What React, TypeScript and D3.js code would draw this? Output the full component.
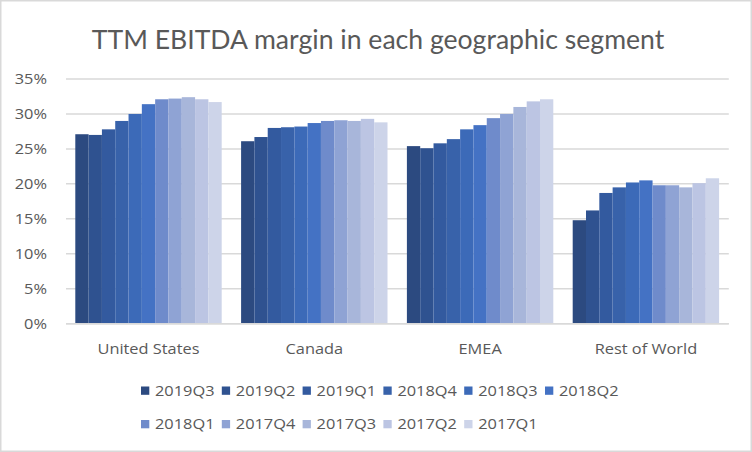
import React from "react";
import * as d3 from "d3";

const title = "TTM EBITDA margin in each geographic segment";
const categories = ["United States", "Canada", "EMEA", "Rest of World"];
const seriesNames = [
  "2019Q3", "2019Q2", "2019Q1", "2018Q4", "2018Q3", "2018Q2",
  "2018Q1", "2017Q4", "2017Q3", "2017Q2", "2017Q1",
];
const seriesColors = [
  "#2C4A80", "#2F5290", "#335A9F", "#3862AA", "#3C6AB8", "#4472C4",
  "#6F8BCB", "#8FA3D4", "#A8B6DA", "#BCC5E3", "#CDD4E9",
];
// values per category, in series order
const usValues = [0.271, 0.270, 0.278, 0.290, 0.300, 0.314, 0.321, 0.322, 0.324, 0.321, 0.317];
const canadaValues = [0.261, 0.267, 0.280, 0.281, 0.282, 0.287, 0.290, 0.291, 0.290, 0.293, 0.288];
const emeaValues = [0.254, 0.251, 0.258, 0.264, 0.278, 0.284, 0.294, 0.300, 0.310, 0.318, 0.321];
const rowValues = [0.148, 0.162, 0.187, 0.195, 0.202, 0.205, 0.198, 0.198, 0.195, 0.201, 0.208];
const yTicks = [0, 0.05, 0.1, 0.15, 0.2, 0.25, 0.3, 0.35];

const W = 752;
const H = 452;
const FONT = "Lato, 'Open Sans', sans-serif";
const SMALL_FONT = "'Open Sans', Lato, sans-serif";
const TEXT = "#595959";
const GRID = "#D9D9D9";
const STRETCH = 1.17;

function Label(props: { x: number; y: number; anchor?: string; children: React.ReactNode }) {
  return (
    <g transform={`translate(${props.x},${props.y}) scale(${STRETCH},1)`}>
      <text dy="0.36em" textAnchor={props.anchor || "start"} fontSize={14} fill={TEXT}>
        {props.children}
      </text>
    </g>
  );
}

export default function App() {
  const valuesByCat = [usValues, canadaValues, emeaValues, rowValues];
  const plotLeft = 65.6;
  const plotRight = 728.8;
  const gap = 0.117;
  const x0 = d3
    .scaleBand<string>()
    .domain(categories)
    .range([plotLeft, plotRight])
    .paddingInner(gap)
    .paddingOuter(gap / 2);
  const x1 = d3.scaleBand<string>().domain(seriesNames).range([0, x0.bandwidth()]);
  const y = d3.scaleLinear().domain([0, 0.35]).range([323.7, 79]);
  const fmt = d3.format(".0%");

  const legendRows = [seriesNames.slice(0, 6), seriesNames.slice(6)];
  const legendStep = 80.8;
  const legendX0 = 141;
  const legendRowY = [390.5, 424];

  return (
    <svg
      width={W}
      height={H}
      style={{ position: "absolute", left: 0, top: 0, background: "#fff" }}
      fontFamily={SMALL_FONT}
    >
      <rect x={0.75} y={0.75} width={W - 1.5} height={H - 1.5} fill="#fff" stroke={GRID} strokeWidth={1.5} />
      <text x={378} y={49} textAnchor="middle" fontSize={26.6} fill={TEXT} fontFamily={FONT}>
        {title}
      </text>
      {yTicks.map((t) => (
        <g key={t}>
          <line x1={66} x2={plotRight} y1={y(t)} y2={y(t)} stroke={GRID} strokeWidth={1.5} />
          <Label x={47} y={y(t)} anchor="end">
            {fmt(t)}
          </Label>
        </g>
      ))}
      {categories.map((c, ci) => (
        <g key={c} transform={`translate(${x0(c)},0)`}>
          {seriesNames.map((s, si) => {
            const v = valuesByCat[ci][si];
            return (
              <rect
                key={s}
                x={x1(s)}
                y={y(v)}
                width={x1.bandwidth()}
                height={y(0) - y(v)}
                fill={seriesColors[si]}
              />
            );
          })}
          <Label x={x0.bandwidth() / 2} y={349} anchor="middle">
            {c}
          </Label>
        </g>
      ))}
      <line x1={66} x2={plotRight} y1={y(0)} y2={y(0)} stroke={GRID} strokeWidth={1.5} />
      {legendRows.map((row, ri) =>
        row.map((s, i) => {
          const idx = ri * 6 + i;
          const lx = legendX0 + i * legendStep;
          const ly = legendRowY[ri];
          return (
            <g key={s}>
              <rect x={lx} y={ly - 4} width={8.3} height={8.3} fill={seriesColors[idx]} />
              <Label x={lx + 14} y={ly}>
                {s}
              </Label>
            </g>
          );
        })
      )}
    </svg>
  );
}
